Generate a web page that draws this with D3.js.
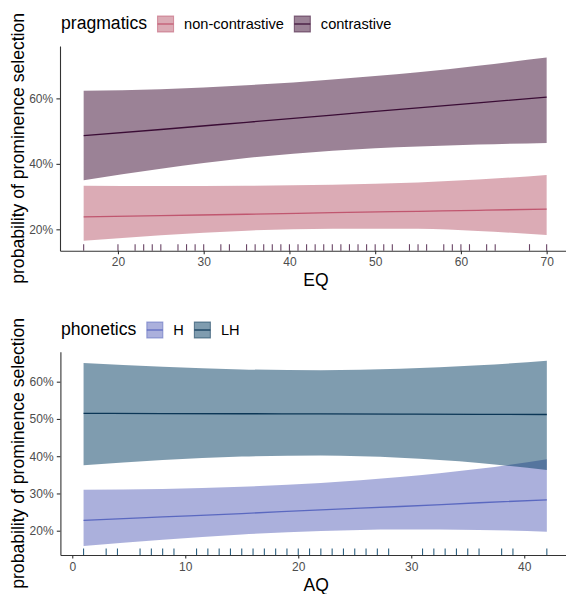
<!DOCTYPE html>
<html>
<head>
<meta charset="utf-8">
<script src="https://cdn.jsdelivr.net/npm/d3@7"></script>
<style>
  html, body { margin: 0; padding: 0; background: #fff; }
  svg { display: block; font-family: "Liberation Sans", Arial, Helvetica, sans-serif; }
</style>
</head>
<body>
<svg id="chart" width="566" height="594"></svg>
<script>
// ---------------- DATA ----------------
// Top panel: pragmatics by EQ
const eqGrid = [16, 25, 35, 45, 55, 62, 70];
const nonContrastiveFit   = [23.8, 24.2, 24.6, 25.1, 25.5, 25.8, 26.2];
const nonContrastiveLower = [16.5, 18.2, 19.6, 20.2, 20.2, 19.5, 18.3];
const nonContrastiveUpper = [33.3, 33.2, 33.3, 33.6, 34.3, 35.2, 36.6];
const contrastiveFit      = [48.6, 50.5, 52.7, 54.9, 57.1, 58.6, 60.4];
const contrastiveLower    = [35.0, 38.5, 41.8, 44.0, 45.3, 45.9, 46.4];
const contrastiveUpper    = [62.3, 62.8, 64.0, 65.8, 68.0, 70.0, 72.5];
const eqRug = [16, 20, 22, 23, 24, 25, 27, 28, 29, 30, 32, 33, 35, 36, 37, 38, 39, 40, 41, 42, 43, 44,
               45, 46, 47, 48, 49, 50, 51, 52, 54, 55, 56, 58, 59, 60, 61, 63, 64, 68, 70];
const eqTicks = [20, 30, 40, 50, 60, 70];
const topYTicks = [20, 40, 60];
const pragmaticsLevels = ["non-contrastive", "contrastive"];

// Bottom panel: phonetics by AQ
const aqGrid = [1, 8, 15, 22, 29, 36, 42];
const hFit    = [22.8, 23.7, 24.6, 25.6, 26.5, 27.5, 28.3];
const hLower  = [15.9, 17.6, 19.0, 19.9, 20.3, 20.2, 19.7];
const hUpper  = [31.0, 31.2, 31.8, 32.8, 34.4, 36.6, 39.2];
const lhFit   = [51.5, 51.45, 51.4, 51.35, 51.3, 51.25, 51.2];
const lhLower = [37.6, 39.0, 39.9, 40.2, 39.6, 38.2, 36.3];
const lhUpper = [65.0, 64.0, 63.3, 63.1, 63.5, 64.4, 65.6];
const aqRug = [1, 3, 4, 6, 7, 8, 9, 11, 12, 13, 14, 15, 16, 17, 18, 19, 20, 21, 22, 23, 24, 25, 26, 27, 28,
               31, 32, 33, 34, 35, 36, 38, 39, 42];
const aqTicks = [0, 10, 20, 30, 40];
const bottomYTicks = [20, 30, 40, 50, 60];
const phoneticsLevels = ["H", "LH"];

// ---------------- STYLE ----------------
const FONT = '"Liberation Sans", Arial, Helvetica, sans-serif';
const svg = d3.select("#chart");

function drawPanel(cfg) {
  const g = svg.append("g");
  const x = d3.scaleLinear().domain(cfg.xDomain).range([cfg.left, cfg.right]);
  const y = d3.scaleLinear().domain(cfg.yDomain).range([cfg.bottom, cfg.top]);

  // ribbons + lines
  cfg.series.forEach(s => {
    const pts = cfg.grid.map((v, i) => ({x: v, lo: s.lower[i], hi: s.upper[i], fit: s.fit[i]}));
    g.append("path")
      .datum(pts)
      .attr("d", d3.area().x(d => x(d.x)).y0(d => y(d.lo)).y1(d => y(d.hi)).curve(d3.curveMonotoneX))
      .attr("fill", s.fill).attr("fill-opacity", 0.5).attr("stroke", "none");
  });
  cfg.series.forEach(s => {
    const pts = cfg.grid.map((v, i) => ({x: v, fit: s.fit[i]}));
    g.append("path")
      .datum(pts)
      .attr("d", d3.line().x(d => x(d.x)).y(d => y(d.fit)).curve(d3.curveMonotoneX))
      .attr("fill", "none").attr("stroke", s.line).attr("stroke-width", 1.3);
  });

  // rug
  g.append("g").selectAll("line").data(cfg.rug).join("line")
    .attr("x1", d => x(d)).attr("x2", d => x(d))
    .attr("y1", cfg.bottom).attr("y2", cfg.bottom - 6.5)
    .attr("stroke", cfg.rugColor).attr("stroke-width", 1.1);

  // axes
  const xa = g.append("g").attr("transform", `translate(0,${cfg.bottom})`)
    .call(d3.axisBottom(x).tickValues(cfg.xTicks).tickSize(3.6).tickSizeOuter(0).tickPadding(3.6));
  const ya = g.append("g").attr("transform", `translate(${cfg.left},0)`)
    .call(d3.axisLeft(y).tickValues(cfg.yTicks).tickFormat(d => d + "%").tickSize(3.6).tickSizeOuter(0).tickPadding(3.2));
  [xa, ya].forEach(a => {
    a.select(".domain").attr("stroke", "#333").attr("stroke-width", 1.1);
    a.selectAll(".tick line").attr("stroke", "#333").attr("stroke-width", 1.1);
    a.selectAll(".tick text").attr("fill", "#4d4d4d").style("font-family", FONT).style("font-size", "12px");
  });

  // x title
  g.append("text").attr("x", (cfg.left + 566) / 2 + 3).attr("y", cfg.bottom + 35.5)
    .attr("text-anchor", "middle").attr("fill", "#000")
    .style("font-family", FONT).style("font-size", "17.5px").text(cfg.xTitle);

  // y title
  const cy = (cfg.top + cfg.bottom) / 2;
  g.append("text").attr("transform", `translate(24,${cy}) rotate(-90)`)
    .attr("text-anchor", "middle").attr("fill", "#000")
    .style("font-family", FONT).style("font-size", "17.6px")
    .text("probability of prominence selection");

  // legend
  const lg = g.append("g");
  let lx = 61;
  const ly = cfg.legendY;
  const title = lg.append("text").attr("x", lx).attr("y", ly + 4.6)
    .style("font-family", FONT).style("font-size", "17.6px").attr("fill", "#000").text(cfg.legendTitle);
  lx += title.node().getComputedTextLength() + 10;
  cfg.series.forEach(s => {
    lg.append("rect").attr("x", lx + 0.5).attr("y", ly - 8).attr("width", 16).attr("height", 16)
      .attr("fill", s.fill).attr("fill-opacity", 0.5)
      .attr("stroke", s.line).attr("stroke-opacity", 0.55).attr("stroke-width", 1.1);
    lg.append("line").attr("x1", lx + 0.5).attr("x2", lx + 16.5).attr("y1", ly).attr("y2", ly)
      .attr("stroke", s.line).attr("stroke-width", 1.2);
    lx += 17 + 10;
    const t = lg.append("text").attr("x", lx).attr("y", ly + 4.8)
      .style("font-family", FONT).style("font-size", "14.6px").attr("fill", "#000").text(s.name);
    lx += t.node().getComputedTextLength() + 10;
  });
}

drawPanel({
  grid: eqGrid,
  xDomain: [13.24, 72.7], yDomain: [13.47, 76.0],
  left: 60, right: 569.8, top: 46, bottom: 250.7,
  xTicks: eqTicks, yTicks: topYTicks, rug: eqRug, rugColor: "#6a4566",
  xTitle: "EQ", legendTitle: "pragmatics", legendY: 24,
  series: [
    {name: pragmaticsLevels[0], fit: nonContrastiveFit, lower: nonContrastiveLower, upper: nonContrastiveUpper, fill: "#b7576b", line: "#c0566f"},
    {name: pragmaticsLevels[1], fit: contrastiveFit, lower: contrastiveLower, upper: contrastiveUpper, fill: "#37052d", line: "#3a0c35"}
  ]
});

drawPanel({
  grid: aqGrid,
  xDomain: [-1.05, 44.05], yDomain: [13.48, 68.05],
  left: 60.4, right: 570, top: 351.7, bottom: 555,
  xTicks: aqTicks, yTicks: bottomYTicks, rug: aqRug, rugColor: "#2f6282",
  xTitle: "AQ", legendTitle: "phonetics", legendY: 330,
  series: [
    {name: phoneticsLevels[0], fit: hFit, lower: hLower, upper: hUpper, fill: "#5761b9", line: "#5a68c0"},
    {name: phoneticsLevels[1], fit: lhFit, lower: lhLower, upper: lhUpper, fill: "#00395f", line: "#0b3656"}
  ]
});
</script>
</body>
</html>
